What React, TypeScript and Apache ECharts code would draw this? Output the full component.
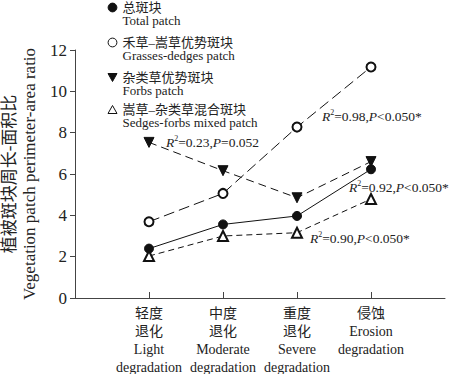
import React, { useEffect, useRef } from "react";
import * as echarts from "echarts";

const categories = [
  "轻度\n退化\nLight\ndegradation",
  "中度\n退化\nModerate\ndegradation",
  "重度\n退化\nSevere\ndegradation",
  "侵蚀\nErosion\ndegradation",
];

const seriesNames = [
  "总斑块\nTotal patch",
  "禾草–嵩草优势斑块\nGrasses-dedges patch",
  "杂类草优势斑块\nForbs patch",
  "嵩草–杂类草混合斑块\nSedges-forbs mixed patch",
];

const totalPatch = [2.39, 3.56, 3.97, 6.23];
const grassesPatch = [3.69, 5.06, 8.27, 11.18];
const forbsPatch = [7.53, 6.16, 4.85, 6.6];
const sedgesForbsPatch = [2.03, 3.0, 3.16, 4.79];

const yTicks = { min: 0, max: 12, interval: 2 };

const annotations = [
  { r2: "0.98", p: "<0.050*" },
  { r2: "0.23", p: "=0.052" },
  { r2: "0.92", p: "<0.050*" },
  { r2: "0.90", p: "<0.050*" },
];

const SERIF = "'Liberation Serif', 'Noto Sans CJK SC', serif";

// legend icons drawn in the upper part of a 10x26 box so they line up with the first text line
const BOX = "M0,0M10,26";
const CIRCLE = "M0.6,6.5A4.4,4.4,0,1,0,9.4,6.5A4.4,4.4,0,1,0,0.6,6.5Z";
const legendIcons = [
  "path://" + CIRCLE + BOX,
  "path://" + CIRCLE + BOX,
  "path://M0.5,2.5L9.5,2.5L5,10.5Z" + BOX,
  "path://M5,2.5L9.5,10.5L0.5,10.5Z" + BOX,
];
const legendFills = ["#111", "#fff", "#111", "#fff"];

export default function App() {
  const ref = useRef<HTMLDivElement>(null);

  useEffect(() => {
    if (!ref.current) return;
    document.body.style.margin = "0";
    const chart = echarts.init(ref.current, null, { renderer: "svg" });

    const pad = (arr: number[]) => [null, ...arr, null];
    const xData = ["", ...categories, ""];

    const symbols = ["circle", "emptyCircle", "triangle", "emptyTriangle"];
    const rotates = [0, 0, 180, 0];
    const dashes: any[] = ["solid", [11, 5], [8, 5], [6, 4]];
    const values = [totalPatch, grassesPatch, forbsPatch, sedgesForbsPatch];
    const iconCenters = [7, 42, 77, 109];

    const series = values.map((v, i) => ({
      name: seriesNames[i],
      type: "line",
      data: pad(v),
      symbol: symbols[i],
      symbolRotate: rotates[i],
      symbolSize: symbols[i].includes("riangle") ? 10 : 9,
      showSymbol: true,
      connectNulls: false,
      lineStyle: { color: "#111", width: 1, type: dashes[i] },
      itemStyle: { color: "#111", borderColor: "#111", borderWidth: 1 },
      z: 3,
    }));

    const legends = seriesNames.map((n, i) => ({
      show: true,
      orient: "vertical",
      left: 107,
      top: iconCenters[i] - 6.5,
      padding: 0,
      itemWidth: 10,
      itemHeight: 26,
      data: [
        {
          name: n,
          icon: legendIcons[i],
          itemStyle: {
            color: legendFills[i],
            borderColor: "#111",
            borderWidth: 1,
          },
        },
      ],
      selectedMode: false,
      textStyle: {
        fontFamily: SERIF,
        fontSize: 13,
        lineHeight: 13,
        color: "#222",
      },
    }));

    const annotPos = [
      { left: 322, top: 116 },
      { left: 166, top: 142 },
      { left: 349, top: 187 },
      { left: 310, top: 238 },
    ];

    const graphics = annotations.map((a, i) => ({
      type: "text",
      left: annotPos[i].left,
      top: annotPos[i].top - 8,
      style: {
        text: `{i|R}{s|2}{n|=${a.r2},}{i|P}{n|${a.p}}`,
        rich: {
          i: { fontFamily: SERIF, fontSize: 13.5, fontStyle: "italic", fill: "#222", lineHeight: 16 },
          n: { fontFamily: SERIF, fontSize: 13.5, fill: "#222", lineHeight: 16 },
          s: { fontFamily: SERIF, fontSize: 8, fill: "#222", verticalAlign: "top", lineHeight: 10 },
        },
        fill: "#222",
      },
      z: 10,
    }));

    chart.setOption({
      animation: false,
      backgroundColor: "#fff",
      grid: { left: 75, right: 5, top: 50, bottom: 76, containLabel: false, outerBoundsMode: "none" },
      legend: legends,
      xAxis: {
        type: "category",
        data: xData,
        boundaryGap: false,
        axisLine: { show: true, lineStyle: { color: "#444", width: 1 } },
        axisTick: {
          show: true,
          inside: true,
          length: 6,
          interval: (idx: number) => idx >= 1 && idx <= categories.length,
          lineStyle: { color: "#444" },
        },
        axisLabel: {
          interval: 0,
          margin: 6,
          fontFamily: SERIF,
          fontSize: 14,
          lineHeight: 18,
          color: "#222",
          verticalAlign: "top",
        },
        splitLine: { show: false },
      },
      yAxis: {
        type: "value",
        min: yTicks.min,
        max: yTicks.max,
        interval: yTicks.interval,
        name: "植被斑块周长-面积比\nVegetation patch perimeter-area ratio",
        nameLocation: "middle",
        nameGap: 29,
        nameTextStyle: {
          fontFamily: SERIF,
          fontSize: 17,
          lineHeight: 20,
          color: "#222",
        },
        axisLine: { show: true, lineStyle: { color: "#444", width: 1 } },
        axisTick: { show: true, inside: false, length: 5, lineStyle: { color: "#444" } },
        axisLabel: { margin: 8, fontFamily: SERIF, fontSize: 17, color: "#222" },
        splitLine: { show: false },
      },
      series,
      graphic: graphics,
    });

    return () => chart.dispose();
  }, []);

  return (
    <div
      ref={ref}
      style={{ position: "absolute", left: 0, top: 0, width: 450, height: 374 }}
    />
  );
}
